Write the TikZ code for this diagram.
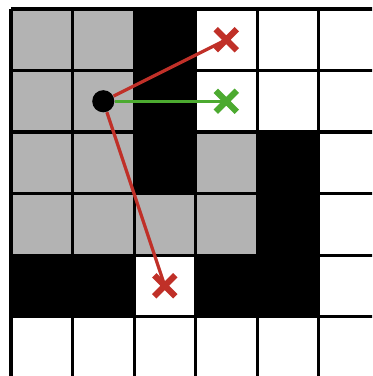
\documentclass[tikz,border=0pt]{standalone}
\usetikzlibrary{shapes.misc, positioning}

\definecolor{cellgray}{RGB}{179,179,179}
\definecolor{rayred}{RGB}{192,48,40}
\definecolor{raygreen}{RGB}{76,170,48}

\begin{document}
\begin{tikzpicture}[
    x=1cm, y=-1cm,
    gridline/.style={line width=1.4pt, black},
    source/.style={circle, fill=black, minimum size=0.36cm, inner sep=0pt},
    target/.style={cross out, draw=#1, line width=2.9pt, minimum size=0.24cm, inner sep=0pt},
    ray/.style={draw=#1, line width=1.5pt}
]

% Picture frame (grid is cut at right and bottom)
\useasboundingbox (-0.179,-0.146) rectangle (5.870,5.967);
\clip (-0.179,-0.146) rectangle (5.870,5.967);

% Grey cells
\foreach \c/\r in {0/0, 1/0, 0/1, 1/1, 0/2, 1/2, 3/2, 0/3, 1/3, 2/3, 3/3}
    \fill[cellgray] (\c,\r) rectangle ++(1,1);

% Black cells
\foreach \c/\r in {2/0, 2/1, 2/2, 4/2, 4/3, 0/4, 1/4, 3/4, 4/4}
    \fill[black] (\c,\r) rectangle ++(1,1);

% Grid
\draw[gridline] (0,0) grid (7,7);

% Source point and targets
\node[source] at (1.5,1.5) (src) {};
\node[target=rayred] at (3.5,0.5) (hitTop) {};
\node[target=raygreen] at (3.5,1.5) (seen) {};
\node[target=rayred] at (2.5,4.5) (hitLow) {};

% Rays
\draw[ray=rayred] (src) -- (hitTop.center);
\draw[ray=raygreen] (src) -- (seen.center);
\draw[ray=rayred] (src) -- (hitLow.center);

\end{tikzpicture}
\end{document}
